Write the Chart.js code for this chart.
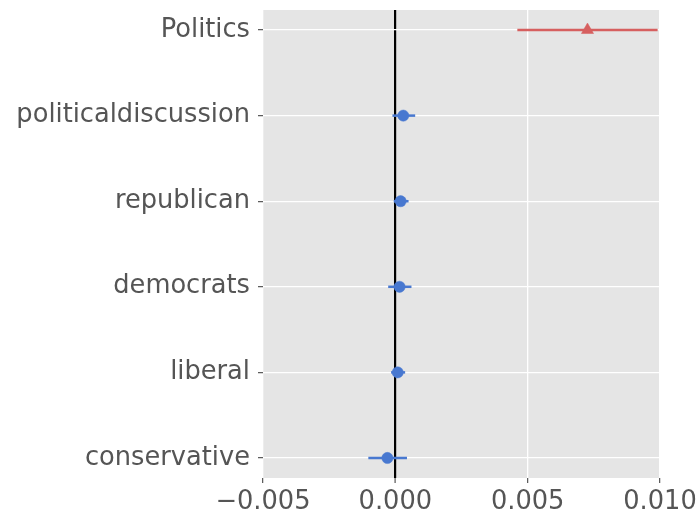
<!DOCTYPE html>
<html>
<head>
<meta charset="utf-8">
<script src="https://cdn.jsdelivr.net/npm/chart.js@4"></script>
<style>
html,body{margin:0;padding:0;background:#fff;}
#wrap{width:699px;height:519px;}
</style>
</head>
<body>
<div id="wrap"><canvas id="c" width="699" height="519"></canvas></div>
<script>
const categories = ["Politics","politicaldiscussion","republican","democrats","liberal","conservative"];
const estimates  = [0.00726, 0.00030, 0.00020, 0.00016, 0.00009, -0.00030];
const lowerCI    = [0.00461, -0.00011, -0.00006, -0.00027, -0.00016, -0.00102];
const upperCI    = [0.00991, 0.00075, 0.00050, 0.00061, 0.00037, 0.00044];
const highlighted = [true, false, false, false, false, false];
const xTicks = [-0.005, 0.000, 0.005, 0.010];

const BLUE = '#4878D0';
const RED = '#D65F5F';

const datasets = [];
// error bars
categories.forEach((c, i) => {
  datasets.push({
    type: 'scatter',
    data: [{x: lowerCI[i], y: i}, {x: upperCI[i], y: i}],
    showLine: true,
    borderColor: highlighted[i] ? RED : BLUE,
    borderWidth: 2.5,
    pointRadius: 0,
    order: 2
  });
});
// points
datasets.push({
  type: 'scatter',
  data: categories.map((c, i) => ({x: estimates[i], y: i})).filter((p, i) => !highlighted[i]),
  backgroundColor: BLUE, borderColor: BLUE, borderWidth: 0.5,
  pointRadius: 5.6, pointStyle: 'circle', order: 1
});
datasets.push({
  type: 'scatter',
  data: categories.map((c, i) => ({x: estimates[i], y: i})).filter((p, i) => highlighted[i]),
  backgroundColor: RED, borderColor: RED, borderWidth: 0.5,
  pointRadius: 7, pointStyle: 'triangle', order: 1
});

const bgPlugin = {
  id: 'bg',
  beforeDraw(chart) {
    const {ctx, chartArea: a} = chart;
    ctx.save();
    ctx.fillStyle = '#E5E5E5';
    ctx.fillRect(a.left, a.top, a.right - a.left, a.bottom - a.top);
    ctx.restore();
  }
};

const tickFont = {family: 'DejaVu Sans', size: 25.7};

new Chart(document.getElementById('c'), {
  type: 'scatter',
  data: {datasets},
  options: {
    responsive: false,
    animation: false,
    devicePixelRatio: 1,
    layout: {padding: {left: 0, right: 0, top: 0, bottom: 0}},
    plugins: {legend: {display: false}, tooltip: {enabled: false}},
    scales: {
      x: {
        type: 'linear', min: -0.005, max: 0.010,
        afterBuildTicks(s) { s.ticks = xTicks.map(v => ({value: v})); },
        afterFit(s) { s.height = 41; s.paddingLeft = 0; s.paddingRight = 39; },
        ticks: {
          color: '#555555', font: tickFont, padding: 4,
          callback: v => (v < 0 ? '\u2212' : '') + Math.abs(v).toFixed(3)
        },
        grid: {
          color: ctx => (ctx.tick && ctx.tick.value === 0) ? '#000000' : '#FFFFFF',
          lineWidth: ctx => (ctx.tick && ctx.tick.value === 0) ? 2.2 : 1.3,
          tickColor: '#555555', tickLength: 5, tickWidth: 1.2
        },
        border: {display: false}
      },
      y: {
        type: 'linear', reverse: true, min: -0.234, max: 5.234,
        afterBuildTicks(s) { s.ticks = categories.map((c, i) => ({value: i})); },
        afterFit(s) { s.width = 263; s.paddingTop = 10; s.paddingBottom = 0; },
        ticks: {
          color: '#555555', font: tickFont, padding: 8,
          callback: (v) => categories[v] ?? ''
        },
        grid: {
          color: '#FFFFFF', lineWidth: 1.3,
          tickColor: '#555555', tickLength: 5, tickWidth: 1.2
        },
        border: {display: false}
      }
    }
  },
  plugins: [bgPlugin]
});
</script>
</body>
</html>
